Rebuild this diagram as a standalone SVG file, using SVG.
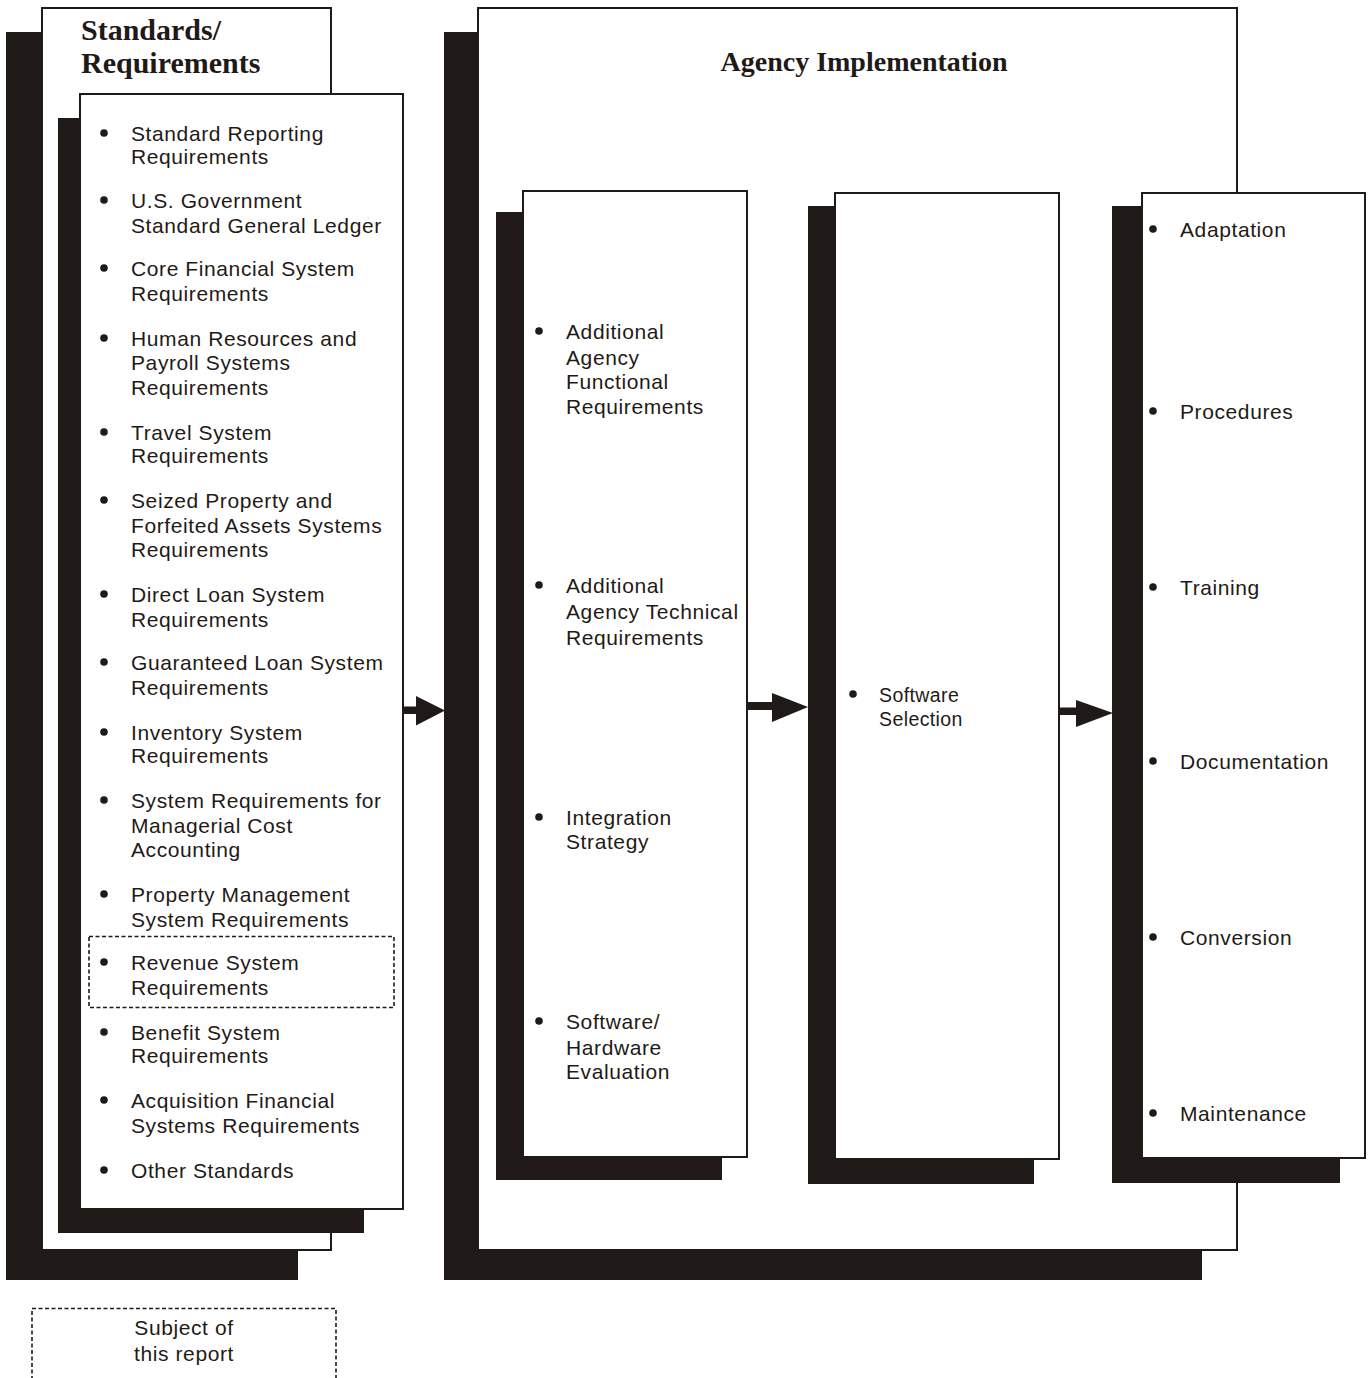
<svg xmlns="http://www.w3.org/2000/svg" width="1369" height="1378" viewBox="0 0 1369 1378">
  <style>
    .shadow { fill: #1f1a17; }
    .card { fill: #ffffff; stroke: #1f1a17; stroke-width: 2; }
    .title { font-family: "Liberation Serif", "Times New Roman", serif; font-weight: bold; font-size: 28px; fill: #1f1a17; }
    .big { font-size: 30px; }
    .item { font-family: "Liberation Sans", Arial, sans-serif; font-size: 21px; letter-spacing: 0.6px; fill: #1f1a17; }
    .small { font-size: 19.5px; letter-spacing: 0.4px; }
    .dot { fill: #1f1a17; }
    .dashed { fill: none; stroke: #1f1a17; stroke-width: 1.6; stroke-dasharray: 4 2.5; }
    .arrow { fill: #1f1a17; }
  </style>

  <!-- Standards / Requirements stack -->
  <g id="standards">
    <rect class="shadow" x="6" y="32" width="292" height="1248"/>
    <rect class="card" x="42" y="8" width="289" height="1242"/>
    <text class="title big" x="81" y="40">Standards/</text>
    <text class="title big" x="81" y="73">Requirements</text>
  </g>

  <g id="standards-list">
    <rect class="shadow" x="58" y="118" width="306" height="1115"/>
    <rect class="card" x="80" y="94" width="323" height="1115"/>
    <g class="item">
      <circle class="dot" cx="104" cy="133" r="3.8"/>
      <text x="131" y="141">Standard Reporting</text>
      <text x="131" y="164">Requirements</text>

      <circle class="dot" cx="104" cy="200" r="3.8"/>
      <text x="131" y="208">U.S. Government</text>
      <text x="131" y="233">Standard General Ledger</text>

      <circle class="dot" cx="104" cy="268" r="3.8"/>
      <text x="131" y="276">Core Financial System</text>
      <text x="131" y="301">Requirements</text>

      <circle class="dot" cx="104" cy="338" r="3.8"/>
      <text x="131" y="346">Human Resources and</text>
      <text x="131" y="370">Payroll Systems</text>
      <text x="131" y="395">Requirements</text>

      <circle class="dot" cx="104" cy="432" r="3.8"/>
      <text x="131" y="440">Travel System</text>
      <text x="131" y="463">Requirements</text>

      <circle class="dot" cx="104" cy="500" r="3.8"/>
      <text x="131" y="508">Seized Property and</text>
      <text x="131" y="533">Forfeited Assets Systems</text>
      <text x="131" y="557">Requirements</text>

      <circle class="dot" cx="104" cy="594" r="3.8"/>
      <text x="131" y="602">Direct Loan System</text>
      <text x="131" y="627">Requirements</text>

      <circle class="dot" cx="104" cy="662" r="3.8"/>
      <text x="131" y="670">Guaranteed Loan System</text>
      <text x="131" y="695">Requirements</text>

      <circle class="dot" cx="104" cy="732" r="3.8"/>
      <text x="131" y="740">Inventory System</text>
      <text x="131" y="763">Requirements</text>

      <circle class="dot" cx="104" cy="800" r="3.8"/>
      <text x="131" y="808">System Requirements for</text>
      <text x="131" y="833">Managerial Cost</text>
      <text x="131" y="857">Accounting</text>

      <circle class="dot" cx="104" cy="894" r="3.8"/>
      <text x="131" y="902">Property Management</text>
      <text x="131" y="927">System Requirements</text>

      <circle class="dot" cx="104" cy="962" r="3.8"/>
      <text x="131" y="970">Revenue System</text>
      <text x="131" y="995">Requirements</text>

      <circle class="dot" cx="104" cy="1032" r="3.8"/>
      <text x="131" y="1040">Benefit System</text>
      <text x="131" y="1063">Requirements</text>

      <circle class="dot" cx="104" cy="1100" r="3.8"/>
      <text x="131" y="1108">Acquisition Financial</text>
      <text x="131" y="1133">Systems Requirements</text>

      <circle class="dot" cx="104" cy="1170" r="3.8"/>
      <text x="131" y="1178">Other Standards</text>
    </g>
    <!-- highlighted item -->
    <rect class="dashed" x="89" y="936.5" width="305" height="71"/>
  </g>

  <!-- Agency implementation panel -->
  <g id="agency">
    <rect class="shadow" x="444" y="32" width="758" height="1248"/>
    <rect class="card" x="478" y="8" width="759" height="1242"/>
    <text class="title" x="864" y="71" text-anchor="middle">Agency Implementation</text>
  </g>

  <g id="agency-requirements">
    <rect class="shadow" x="496" y="212" width="226" height="968"/>
    <rect class="card" x="523" y="191" width="224" height="966"/>
    <g class="item">
      <circle class="dot" cx="539" cy="331" r="3.8"/>
      <text x="566" y="339">Additional</text>
      <text x="566" y="365">Agency</text>
      <text x="566" y="389">Functional</text>
      <text x="566" y="414">Requirements</text>

      <circle class="dot" cx="539" cy="585" r="3.8"/>
      <text x="566" y="593">Additional</text>
      <text x="566" y="619">Agency Technical</text>
      <text x="566" y="645">Requirements</text>

      <circle class="dot" cx="539" cy="817" r="3.8"/>
      <text x="566" y="825">Integration</text>
      <text x="566" y="849">Strategy</text>

      <circle class="dot" cx="539" cy="1021" r="3.8"/>
      <text x="566" y="1029">Software/</text>
      <text x="566" y="1055">Hardware</text>
      <text x="566" y="1079">Evaluation</text>
    </g>
  </g>

  <g id="software-selection">
    <rect class="shadow" x="808" y="206" width="226" height="978"/>
    <rect class="card" x="835" y="193" width="224" height="966"/>
    <g class="item small">
      <circle class="dot" cx="853" cy="694" r="3.8"/>
      <text x="879" y="702">Software</text>
      <text x="879" y="726">Selection</text>
    </g>
  </g>

  <g id="deployment">
    <rect class="shadow" x="1112" y="206" width="228" height="977"/>
    <rect class="card" x="1142" y="193" width="223" height="965"/>
    <g class="item">
      <circle class="dot" cx="1153" cy="229" r="3.8"/>
      <text x="1180" y="237">Adaptation</text>
      <circle class="dot" cx="1153" cy="411" r="3.8"/>
      <text x="1180" y="419">Procedures</text>
      <circle class="dot" cx="1153" cy="587" r="3.8"/>
      <text x="1180" y="595">Training</text>
      <circle class="dot" cx="1153" cy="761" r="3.8"/>
      <text x="1180" y="769">Documentation</text>
      <circle class="dot" cx="1153" cy="937" r="3.8"/>
      <text x="1180" y="945">Conversion</text>
      <circle class="dot" cx="1153" cy="1113" r="3.8"/>
      <text x="1180" y="1121">Maintenance</text>
    </g>
  </g>

  <!-- Flow arrows -->
  <g id="connectors">
    <rect class="arrow" x="403" y="706.5" width="16" height="7.5"/>
    <polygon class="arrow" points="416,696 445,710.5 416,725.5"/>

    <rect class="arrow" x="747" y="702" width="28" height="8"/>
    <polygon class="arrow" points="772,693 808,707 772,722"/>

    <rect class="arrow" x="1059" y="707.5" width="19" height="7.5"/>
    <polygon class="arrow" points="1076,700 1113,713 1076,727"/>
  </g>

  <!-- Legend -->
  <g id="legend">
    <path class="dashed" d="M32,1380 V1308.5 H336 V1380"/>
    <text class="item" x="184" y="1335" text-anchor="middle">Subject of</text>
    <text class="item" x="184" y="1361" text-anchor="middle">this report</text>
  </g>
</svg>
